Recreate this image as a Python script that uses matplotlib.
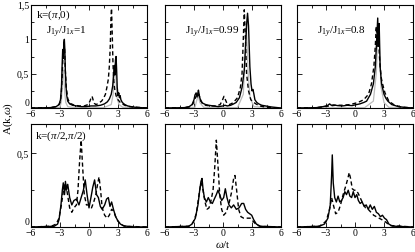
import matplotlib
matplotlib.use("Agg")
import matplotlib.pyplot as plt
from matplotlib.ticker import MultipleLocator, FixedFormatter, FixedLocator

plt.rcParams['font.family'] = ['Liberation Serif', 'DejaVu Serif']
plt.rcParams['mathtext.fontset'] = 'custom'
plt.rcParams['mathtext.rm'] = 'Liberation Serif'
plt.rcParams['mathtext.it'] = 'Liberation Serif:italic'

# ---- k=(pi,0), J1y/J1x=1 ----
tl_solid_x = [-6, -4, -3.4, -3.1, -2.95, -2.85, -2.78, -2.72, -2.66, -2.6, -2.55, -2.5, -2.45, -2.38, -2.3, -2.2,
              -2.0, -1.7, -1.3, -0.8, -0.3, 0.2, 0.7, 1.2, 1.6, 1.9, 2.1, 2.3, 2.45, 2.55, 2.62, 2.68, 2.74, 2.8,
              2.86, 2.92, 3.0, 3.08, 3.15, 3.22, 3.3, 3.45, 3.7, 4.0, 4.5, 5.0, 6]
tl_solid_y = [0, 0.005, 0.02, 0.05, 0.12, 0.3, 0.62, 0.85, 0.72, 0.95, 1.0, 0.85, 0.55, 0.32, 0.18, 0.1,
              0.06, 0.04, 0.03, 0.02, 0.02, 0.03, 0.03, 0.04, 0.06, 0.09, 0.13, 0.2, 0.32, 0.5, 0.62, 0.48, 0.7, 0.75,
              0.55, 0.3, 0.18, 0.22, 0.15, 0.18, 0.12, 0.08, 0.05, 0.03, 0.015, 0.008, 0]
tl_dash_x = [-6, -4, -3.4, -3.1, -2.95, -2.85, -2.75, -2.68, -2.6, -2.52, -2.45, -2.35, -2.2, -2.0, -1.5, -1.0,
             -0.5, -0.1, 0.1, 0.22, 0.32, 0.42, 0.55, 0.7, 0.9, 1.1, 1.3, 1.5, 1.7, 1.85, 2.0, 2.1, 2.2, 2.27,
             2.33, 2.4, 2.48, 2.56, 2.65, 2.8, 3.0, 3.3, 3.7, 4.2, 5.0, 6]
tl_dash_y = [0, 0.005, 0.02, 0.05, 0.1, 0.25, 0.55, 0.8, 0.9, 0.85, 0.55, 0.3, 0.14, 0.07, 0.04, 0.03,
             0.03, 0.05, 0.1, 0.15, 0.17, 0.12, 0.07, 0.05, 0.06, 0.08, 0.1, 0.14, 0.2, 0.3, 0.42, 0.6, 0.9, 1.3,
             1.45, 1.1, 0.65, 0.4, 0.28, 0.18, 0.12, 0.07, 0.04, 0.02, 0.01, 0]
tl_gray_x = [-6, -3.0, -2.85, -2.75, -2.68, -2.6, -2.5, -2.4, -2.2, -1.5, 1.5, 2.3, 2.5, 2.6, 2.7, 2.8, 2.9, 3.1, 3.5, 6]
tl_gray_y = [0, 0.01, 0.1, 0.4, 0.55, 0.45, 0.2, 0.08, 0.02, 0.005, 0.005, 0.05, 0.2, 0.45, 0.6, 0.4, 0.15, 0.05, 0.01, 0]

# ---- k=(pi,0), J1y/J1x=0.99 ----
tm_solid_x = [-6, -4, -3.5, -3.2, -3.0, -2.9, -2.78, -2.68, -2.6, -2.54, -2.45, -2.3, -2.1, -1.8, -1.5, -1.0,
              -0.5, 0.0, 0.2, 0.45, 0.8, 1.1, 1.36, 1.7, 1.97, 2.2, 2.37, 2.46, 2.54, 2.64, 2.78, 2.9, 3.0, 3.1,
              3.2, 3.3, 3.5, 3.7, 4.0, 4.4, 5.0, 6]
tm_solid_y = [0, 0.005, 0.02, 0.05, 0.12, 0.19, 0.22, 0.16, 0.22, 0.26, 0.18, 0.1, 0.07, 0.05, 0.04, 0.03,
              0.02, 0.03, 0.04, 0.03, 0.04, 0.06, 0.08, 0.15, 0.3, 0.55, 1.0, 1.25, 1.38, 1.2, 0.6, 0.35, 0.25, 0.27,
              0.2, 0.12, 0.08, 0.06, 0.04, 0.03, 0.015, 0]
tm_dash_x = [-6, -4, -3.5, -3.2, -3.0, -2.85, -2.72, -2.6, -2.5, -2.35, -2.15, -1.8, -1.3, -0.7, -0.3, -0.1, 0.1,
             0.25, 0.4, 0.68, 0.95, 1.2, 1.5, 1.8, 1.97, 2.1, 2.2, 2.3, 2.44, 2.64, 2.88, 3.1, 3.4, 3.8, 4.5, 6]
tm_dash_y = [0, 0.005, 0.015, 0.04, 0.09, 0.15, 0.19, 0.17, 0.2, 0.13, 0.07, 0.04, 0.03, 0.03, 0.05, 0.1, 0.17,
             0.12, 0.07, 0.05, 0.07, 0.1, 0.15, 0.3, 0.5, 1.0, 1.43, 1.1, 0.5, 0.25, 0.12, 0.09, 0.06, 0.03, 0.01, 0]
tm_gray_x = [-6, -2.9, -2.7, -2.55, -2.4, -2.0, 1.5, 2.1, 2.3, 2.4, 2.5, 2.6, 2.8, 3.2, 6]
tm_gray_y = [0, 0.01, 0.12, 0.18, 0.08, 0.01, 0.005, 0.2, 0.8, 1.2, 0.9, 0.5, 0.15, 0.02, 0]

# ---- k=(pi,0), J1y/J1x=0.8 ----
tr_solid_x = [-6, -4, -3.3, -3.0, -2.8, -2.63, -2.45, -2.2, -1.8, -1.3, -0.8, -0.3, 0.0, 0.5, 0.9, 1.2, 1.6, 1.9,
              2.1, 2.25, 2.35, 2.42, 2.5, 2.6, 2.75, 3.0, 3.2, 3.4, 3.8, 4.5, 5.2, 6]
tr_solid_y = [0, 0.005, 0.02, 0.03, 0.04, 0.06, 0.04, 0.045, 0.035, 0.03, 0.04, 0.035, 0.045, 0.06, 0.08, 0.1, 0.2,
              0.35, 0.6, 1.0, 1.31, 0.9, 1.23, 0.6, 0.35, 0.2, 0.14, 0.1, 0.05, 0.02, 0.008, 0]
tr_dash_x = [-6, -4, -3.2, -2.6, -2.0, -1.3, -0.5, 0.3, 0.9, 1.4, 1.7, 1.95, 2.1, 2.2, 2.3, 2.4, 2.55, 2.7, 2.85,
             3.1, 3.5, 4.0, 4.7, 6]
tr_dash_y = [0, 0.004, 0.02, 0.03, 0.04, 0.04, 0.05, 0.08, 0.12, 0.2, 0.35, 0.6, 0.9, 1.19, 0.9, 1.1, 0.7, 0.45,
             0.35, 0.22, 0.1, 0.05, 0.015, 0]
tr_gray_x = [-6, 1.0, 1.9, 2.2, 2.35, 2.45, 2.55, 2.7, 3.0, 3.5, 6]
tr_gray_y = [0, 0.005, 0.1, 0.5, 1.0, 1.15, 0.8, 0.3, 0.08, 0.01, 0]

# ---- k=(pi/2,pi/2), J1y/J1x=1 ----
bl_solid_x = [-6, -3.6, -3.25, -3.1, -2.9, -2.76, -2.66, -2.53, -2.44, -2.34, -2.2, -2.0, -1.78, -1.56, -1.3, -1.04,
              -0.81, -0.58, -0.39, -0.2, 0.0, 0.2, 0.39, 0.58, 0.78, 0.97, 1.17, 1.36, 1.62, 1.82, 2.0, 2.17, 2.34,
              2.53, 2.76, 3.0, 3.25, 3.57, 4.5, 6]
bl_solid_y = [0, 0.005, 0.02, 0.05, 0.15, 0.25, 0.3, 0.22, 0.31, 0.25, 0.29, 0.2, 0.15, 0.18, 0.19, 0.15,
              0.2, 0.25, 0.32, 0.22, 0.13, 0.2, 0.27, 0.32, 0.22, 0.2, 0.14, 0.12, 0.15, 0.19, 0.2, 0.14, 0.17,
              0.12, 0.07, 0.04, 0.02, 0.008, 0.001, 0]
bl_dash_x = [-6, -3.9, -3.4, -3.1, -2.86, -2.66, -2.44, -2.27, -2.0, -1.78, -1.56, -1.3, -1.14, -0.97, -0.81, -0.65,
             -0.49, -0.26, 0.0, 0.26, 0.49, 0.71, 0.91, 1.04, 1.2, 1.36, 1.62, 1.88, 2.1, 2.34, 2.53, 2.76, 3.0,
             3.25, 3.7, 6]
bl_dash_y = [0, 0.005, 0.02, 0.06, 0.15, 0.24, 0.3, 0.24, 0.13, 0.1, 0.13, 0.15, 0.25, 0.45, 0.59, 0.4,
             0.22, 0.15, 0.15, 0.13, 0.17, 0.22, 0.3, 0.34, 0.25, 0.13, 0.08, 0.06, 0.08, 0.12, 0.11, 0.07, 0.04,
             0.02, 0.005, 0]

# ---- k=(pi/2,pi/2), J1y/J1x=0.99 ----
bm_solid_x = [-6, -3.55, -3.2, -2.86, -2.59, -2.41, -2.28, -2.17, -2.07, -1.93, -1.72, -1.52, -1.31, -1.1, -0.9,
              -0.69, -0.52, -0.34, -0.14, 0.07, 0.24, 0.41, 0.62, 0.86, 1.1, 1.38, 1.66, 1.93, 2.14, 2.34, 2.55,
              2.76, 2.97, 3.17, 3.45, 3.86, 6]
bm_solid_y = [0, 0.005, 0.02, 0.06, 0.15, 0.25, 0.31, 0.33, 0.26, 0.2, 0.17, 0.2, 0.17, 0.16, 0.19,
              0.22, 0.25, 0.22, 0.18, 0.2, 0.26, 0.2, 0.15, 0.13, 0.15, 0.12, 0.13, 0.16, 0.16, 0.12, 0.1,
              0.09, 0.08, 0.05, 0.02, 0.005, 0]
bm_dash_x = [-6, -3.55, -3.1, -2.76, -2.52, -2.34, -2.24, -2.07, -1.86, -1.66, -1.45, -1.24, -1.03, -0.86, -0.69,
             -0.52, -0.34, -0.14, 0.07, 0.34, 0.62, 0.9, 1.1, 1.24, 1.41, 1.62, 1.86, 2.14, 2.48, 2.83, 3.1, 3.45,
             3.86, 6]
bm_dash_y = [0, 0.005, 0.03, 0.09, 0.2, 0.28, 0.3, 0.25, 0.17, 0.12, 0.13, 0.18, 0.25, 0.4, 0.59,
             0.42, 0.22, 0.12, 0.08, 0.1, 0.16, 0.24, 0.33, 0.35, 0.25, 0.12, 0.07, 0.06, 0.06, 0.06, 0.04, 0.015,
             0.004, 0]

# ---- k=(pi/2,pi/2), J1y/J1x=0.8 ----
br_solid_x = [-6, -3.68, -3.16, -2.8, -2.56, -2.42, -2.35, -2.25, -2.1, -1.93, -1.75, -1.58, -1.4, -1.23, -1.05,
              -0.88, -0.7, -0.53, -0.35, -0.18, 0.0, 0.18, 0.35, 0.53, 0.74, 0.95, 1.16, 1.37, 1.58, 1.79, 2.0,
              2.21, 2.42, 2.63, 2.84, 3.05, 3.26, 3.5, 3.86, 6]
br_solid_y = [0, 0.005, 0.02, 0.06, 0.15, 0.35, 0.49, 0.3, 0.2, 0.17, 0.21, 0.17, 0.18, 0.2, 0.24,
              0.22, 0.25, 0.21, 0.2, 0.24, 0.2, 0.22, 0.18, 0.16, 0.17, 0.14, 0.15, 0.12, 0.15, 0.12, 0.14,
              0.1, 0.09, 0.07, 0.08, 0.06, 0.05, 0.02, 0.006, 0]
br_dash_x = [-6, -3.68, -2.98, -2.63, -2.42, -2.2, -2.0, -1.75, -1.5, -1.23, -0.95, -0.74, -0.6, -0.46, -0.28,
             -0.1, 0.1, 0.32, 0.53, 0.81, 1.09, 1.37, 1.65, 1.93, 2.21, 2.49, 2.77, 3.05, 3.33, 3.68, 6]
br_dash_y = [0, 0.005, 0.04, 0.12, 0.2, 0.14, 0.09, 0.1, 0.15, 0.22, 0.28, 0.33, 0.37, 0.33, 0.26,
             0.25, 0.25, 0.23, 0.2, 0.16, 0.13, 0.12, 0.1, 0.08, 0.07, 0.06, 0.05, 0.04, 0.025, 0.01, 0]

ratio_labels = ['1', '0.99', '0.8']

W, H = 415, 252
fig = plt.figure(figsize=(W / 100, H / 100), dpi=100)
lefts = [31, 165, 297]
pw = 116
rows = [(5, 108), (124, 227)]


def make_ax(col, row):
    top, bot = rows[row]
    ax = fig.add_axes([lefts[col] / W, (H - bot) / H, pw / W, (bot - top) / H])
    ax.set_xlim(-6, 6)
    ax.xaxis.set_major_locator(MultipleLocator(3))
    ax.xaxis.set_minor_locator(MultipleLocator(1.5))
    ax.tick_params(which='both', direction='in', top=True, right=True, labelsize=7, pad=1.2, width=0.6)
    ax.tick_params(which='major', length=3.5)
    ax.tick_params(which='minor', length=2)
    for s in ax.spines.values():
        s.set_linewidth(0.8)
    return ax


def raise_zero_label(ax):
    # the "0" label sits a little above the corner, clear of the "-6"
    fig.canvas.draw()
    ax.get_yticklabels()[0].set_verticalalignment('bottom')


top_data = [(tl_solid_x, tl_solid_y, tl_dash_x, tl_dash_y, tl_gray_x, tl_gray_y),
            (tm_solid_x, tm_solid_y, tm_dash_x, tm_dash_y, tm_gray_x, tm_gray_y),
            (tr_solid_x, tr_solid_y, tr_dash_x, tr_dash_y, tr_gray_x, tr_gray_y)]
bot_data = [(bl_solid_x, bl_solid_y, bl_dash_x, bl_dash_y),
            (bm_solid_x, bm_solid_y, bm_dash_x, bm_dash_y),
            (br_solid_x, br_solid_y, br_dash_x, br_dash_y)]

left_axes = []
for i, (sx, sy, dx, dy, gx, gy) in enumerate(top_data):
    ax = make_ax(i, 0)
    ax.plot(gx, gy, color='#bbbbbb', lw=0.9)
    ax.plot(dx, dy, color='black', lw=1.0, ls=(0, (3, 2)))
    ax.plot(sx, sy, color='black', lw=1.0)
    ax.set_ylim(0, 1.5)
    ax.yaxis.set_major_locator(FixedLocator([0, 0.5, 1, 1.5]))
    ax.yaxis.set_minor_locator(MultipleLocator(0.25))
    if i == 0:
        ax.yaxis.set_major_formatter(FixedFormatter(['0', '0,5', '1', '1,5']))
        ax.text(0.04, 0.9, r'k=($\pi$,0)', transform=ax.transAxes, fontsize=8, va='center')
        ax.text(0.13, 0.73, r'J$_{1y}$/J$_{1x}$=' + ratio_labels[i], transform=ax.transAxes, fontsize=8, va='center')
        left_axes.append(ax)
    else:
        ax.set_yticklabels([])
        ax.text(0.17, 0.73, r'J$_{1y}$/J$_{1x}$=' + ratio_labels[i], transform=ax.transAxes, fontsize=8, va='center')

for i, (sx, sy, dx, dy) in enumerate(bot_data):
    ax = make_ax(i, 1)
    ax.plot(dx, dy, color='black', lw=1.0, ls=(0, (3, 2)))
    ax.plot(sx, sy, color='black', lw=1.0)
    ax.set_ylim(0, 0.7)
    ax.yaxis.set_major_locator(FixedLocator([0, 0.5]))
    ax.yaxis.set_minor_locator(MultipleLocator(0.25))
    if i == 0:
        ax.yaxis.set_major_formatter(FixedFormatter(['0', '0,5']))
        ax.text(0.035, 0.885, r'k=($\pi$/2,$\pi$/2)', transform=ax.transAxes, fontsize=8, va='center')
        left_axes.append(ax)
    else:
        ax.set_yticklabels([])

for ax in left_axes:
    raise_zero_label(ax)

fig.text(8 / W, 1 - 118 / H, r'A(k,$\omega$)', rotation=90, fontsize=8, ha='center', va='center')
fig.text(223 / W, 1 - 245 / H, r'$\omega$/t', fontsize=8, ha='center', va='center')

fig.savefig('out.png', dpi=100)
